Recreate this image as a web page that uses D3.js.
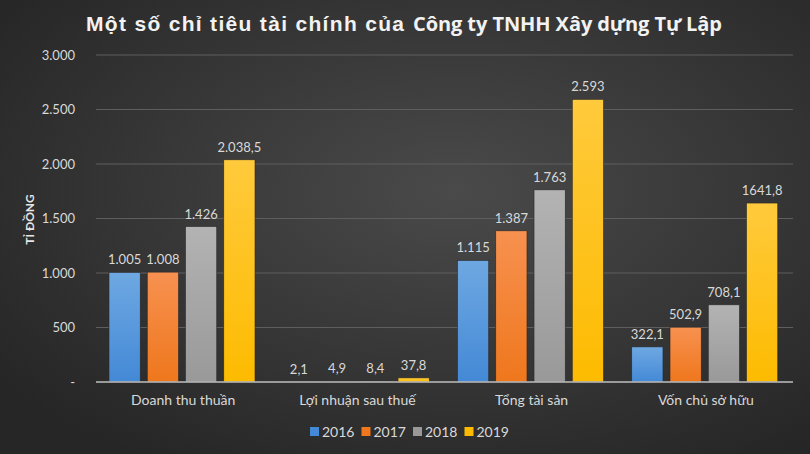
<!DOCTYPE html>
<meta charset="utf-8">
<script src="https://d3js.org/d3.v7.min.js"></script>
<style>
  body { margin: 0; background: #333; }
  svg text { font-family: Lato, "Open Sans", sans-serif; }
</style>
<div id="chart"></div>
<script>

// chart data
const categories = ["Doanh thu thuần", "Lợi nhuận sau thuế", "Tổng tài sản", "Vốn chủ sở hữu"];
const years = ["2016", "2017", "2018", "2019"];
const values2016 = [1005, 2.1, 1115, 322.1];
const values2017 = [1008, 4.9, 1387, 502.9];
const values2018 = [1426, 8.4, 1763, 708.1];
const values2019 = [2038.5, 37.8, 2593, 1641.8];
const labels2016 = ["1.005", "2,1", "1.115", "322,1"];
const labels2017 = ["1.008", "4,9", "1.387", "502,9"];
const labels2018 = ["1.426", "8,4", "1.763", "708,1"];
const labels2019 = ["2.038,5", "37,8", "2.593", "1641,8"];
const yTicks = [0, 500, 1000, 1500, 2000, 2500, 3000];
const yTickLabels = ["-", "500", "1.000", "1.500", "2.000", "2.500", "3.000"];

const series = [
  {year: years[0], values: values2016, labels: labels2016, top: "#6ea8e2", bottom: "#4489d6"},
  {year: years[1], values: values2017, labels: labels2017, top: "#f79150", bottom: "#ef771d"},
  {year: years[2], values: values2018, labels: labels2018, top: "#b3b3b3", bottom: "#999999"},
  {year: years[3], values: values2019, labels: labels2019, top: "#ffca3c", bottom: "#fdbb00"}
];

const W = 810, H = 454;
const plot = {left: 96, right: 793, top: 55, bottom: 382};

const svg = d3.select("#chart").append("svg")
  .attr("width", W)
  .attr("height", H);

const defs = svg.append("defs");
const bg = defs.append("radialGradient")
  .attr("id", "bg")
  .attr("cx", "56%").attr("cy", "42%").attr("r", "70%");
bg.append("stop").attr("offset", "0%").attr("stop-color", "#4a4a4a");
bg.append("stop").attr("offset", "100%").attr("stop-color", "#262626");

series.forEach((s, i) => {
  const g = defs.append("linearGradient")
    .attr("id", "bar" + i)
    .attr("x1", 0).attr("y1", 0).attr("x2", 0).attr("y2", 1);
  g.append("stop").attr("offset", "0%").attr("stop-color", s.top);
  g.append("stop").attr("offset", "100%").attr("stop-color", s.bottom);
});

svg.append("rect")
  .attr("width", W).attr("height", H)
  .attr("fill", "url(#bg)");

// title: two runs in different faces, spaced out like the original
const title = svg.append("text")
  .attr("y", 31)
  .style("font-weight", "bold")
  .attr("fill", "#f2f2f2");
title.append("tspan")
  .attr("x", 86)
  .style("font-family", "'Liberation Sans', Arial, sans-serif")
  .style("font-size", "21px")
  .attr("textLength", 318)
  .attr("lengthAdjust", "spacing")
  .text("Một số chỉ tiêu tài chính của");
title.append("tspan")
  .attr("x", 413)
  .style("font-family", "'Open Sans', sans-serif")
  .style("font-size", "20px")
  .attr("textLength", 309)
  .attr("lengthAdjust", "spacing")
  .text("Công ty TNHH Xây dựng Tự Lập");

// scales
const x0 = d3.scaleBand()
  .domain(categories)
  .range([plot.left, plot.right]);

const x1 = d3.scaleBand()
  .domain(years)
  .range([13, 159])
  .paddingInner(0.184);

const y = d3.scaleLinear()
  .domain([0, 3000])
  .range([plot.bottom, plot.top]);

// gridlines
svg.append("g")
  .selectAll("line")
  .data(yTicks.slice(1))
  .join("line")
    .attr("x1", plot.left).attr("x2", plot.right)
    .attr("y1", d => y(d)).attr("y2", d => y(d))
    .attr("stroke", "#5e5e5e")
    .attr("stroke-width", 1);

// y axis labels
const yAxis = svg.append("g")
  .attr("transform", `translate(${plot.left - 18},0)`)
  .call(d3.axisLeft(y).tickValues(yTicks).tickSize(0).tickFormat((d, i) => yTickLabels[i]));
yAxis.select(".domain").remove();
yAxis.selectAll("text")
  .attr("fill", "#d9d9d9")
  .style("font-size", "13px")
  .style("font-family", "Lato, sans-serif");

svg.append("text")
  .attr("transform", `translate(34,${(plot.top + plot.bottom) / 2 + 1}) rotate(-90)`)
  .attr("text-anchor", "middle")
  .style("font-weight", "bold")
  .style("font-size", "12px")
  .attr("fill", "#e6e6e6")
  .text("TỈ ĐỒNG");

// bars
const groups = svg.append("g")
  .selectAll("g")
  .data(series)
  .join("g");

groups.selectAll("rect")
  .data((s, i) => s.values.map((v, j) => ({cat: categories[j], year: s.year, v: v, label: s.labels[j], i: i})))
  .join("rect")
    .attr("x", d => x0(d.cat) + x1(d.year))
    .attr("y", d => y(d.v))
    .attr("width", x1.bandwidth())
    .attr("height", d => y(0) - y(d.v))
    .attr("fill", d => `url(#bar${d.i})`)
    .attr("stroke", "#2a2a2a")
    .attr("stroke-width", 0.6);

groups.selectAll("text")
  .data((s, i) => s.values.map((v, j) => ({cat: categories[j], year: s.year, v: v, label: s.labels[j]})))
  .join("text")
    .attr("x", d => x0(d.cat) + x1(d.year) + x1.bandwidth() / 2)
    .attr("y", d => y(d.v) - 8)
    .attr("text-anchor", "middle")
    .style("font-size", "13px")
    .attr("fill", "#d9d9d9")
    .text(d => d.label);

// baseline
svg.append("line")
  .attr("x1", plot.left).attr("x2", plot.right)
  .attr("y1", y(0)).attr("y2", y(0))
  .attr("stroke", "#bfbfbf")
  .attr("stroke-width", 1.5);

// category labels
const xAxis = svg.append("g")
  .attr("transform", `translate(0,${plot.bottom})`)
  .call(d3.axisBottom(x0).tickSize(0).tickPadding(13));
xAxis.select(".domain").remove();
xAxis.selectAll("text")
  .attr("fill", "#d9d9d9")
  .style("font-size", "14px")
  .style("font-family", "Lato, sans-serif");

// legend
const legend = svg.append("g")
  .selectAll("g")
  .data(series)
  .join("g")
    .attr("transform", (d, i) => `translate(${310 + i * 51.5},432)`);

legend.append("rect")
  .attr("x", 0).attr("y", -5)
  .attr("width", 9).attr("height", 9)
  .attr("fill", d => d.bottom);

legend.append("text")
  .attr("x", 12).attr("y", 5)
  .style("font-size", "14px")
  .attr("fill", "#d9d9d9")
  .text(d => d.year);

</script>
